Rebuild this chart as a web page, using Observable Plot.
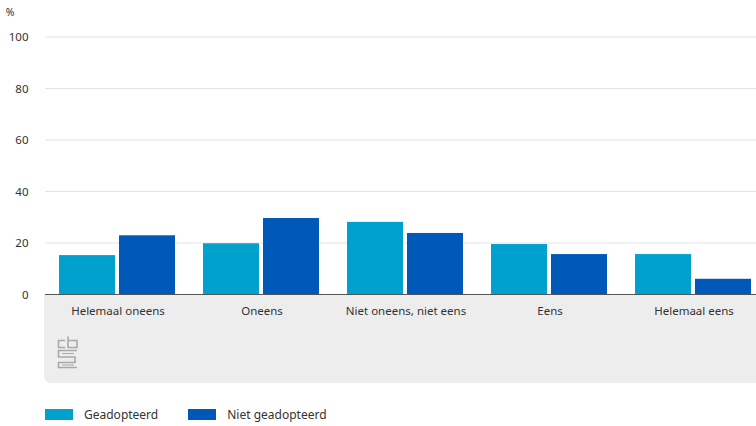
<!DOCTYPE html>
<html>
<head>
<meta charset="utf-8">
<script src="https://cdn.jsdelivr.net/npm/d3@7"></script>
<script src="https://cdn.jsdelivr.net/npm/@observablehq/plot@0.6"></script>
<style>
  html, body { margin: 0; padding: 0; background: #fff; overflow: hidden; width: 756px; height: 426px; }
  #chart { width: 765px; }
  #chart svg { display: block; max-width: none !important; }
  .legend { display: flex; align-items: center; padding-left: 45px; margin-top: 16px; font-family: "Noto Sans", sans-serif; font-size: 12px; color: #333; }
  .legend .item { display: flex; align-items: center; margin-right: 30px; }
  .legend .sw { width: 28px; height: 11px; margin-right: 11px; }
</style>
</head>
<body>
<div id="chart"></div>
<div class="legend" id="legend"></div>
<script>
const categories = ["Helemaal oneens", "Oneens", "Niet oneens, niet eens", "Eens", "Helemaal eens"];
const series = ["Geadopteerd", "Niet geadopteerd"];
const geadopteerd = [15.3, 19.9, 28.2, 19.6, 15.7];
const nietGeadopteerd = [23.0, 29.7, 23.9, 15.7, 6.1];
const yTicks = [0, 20, 40, 60, 80, 100];
const colors = ["#00a1cd", "#0058b8"];
const unitLabel = "%";

const data = categories.flatMap((c, i) => [
  {cat: c, s: series[0], v: geadopteerd[i]},
  {cat: c, s: series[1], v: nietGeadopteerd[i]}
]);

const W = 765, ML = 45;

const plot = Plot.plot({
  width: W,
  height: 390,
  marginLeft: ML,
  marginRight: 0,
  marginTop: 37,
  marginBottom: 95.5,
  style: {fontFamily: "Noto Sans, sans-serif", fontSize: "11px", color: "#333", background: "transparent", maxWidth: "none"},
  fx: {domain: categories, paddingInner: 0.1875, paddingOuter: 0.09375, label: null},
  x: {domain: series, paddingInner: 0.066, paddingOuter: 0, axis: null},
  y: {domain: [0, 100], ticks: yTicks, label: null},
  color: {domain: series, range: colors},
  marks: [
    Plot.axisY({ticks: yTicks, tickSize: 0, dx: -22, label: null, fontSize: 11.5}),
    Plot.axisFx({anchor: "bottom", tickSize: 0, dy: 3, label: null, fontSize: 11.5}),
    Plot.barY(data, {fx: "cat", x: "s", y: "v", fill: "s"})
  ]
});

document.getElementById("chart").appendChild(plot);

const yScale = plot.scale("y");
const y0 = yScale.apply(0);
const svg = d3.select(plot);

// gridlines spanning the whole frame (drawn behind the bars)
const grid = svg.insert("g", ":first-child").attr("stroke", "#e4e4e4").attr("stroke-width", 1.2);
yTicks.slice(1).forEach(t => {
  const yy = yScale.apply(t);
  grid.append("line").attr("x1", ML).attr("x2", W).attr("y1", yy).attr("y2", yy);
});

// grey footer band behind the category labels
const bx = 44, bw = W - bx, by = y0, bh = 383 - y0, r = 8;
svg.insert("path", ":first-child")
  .attr("d", `M${bx},${by} H${bx + bw} V${by + bh} H${bx + r} Q${bx},${by + bh} ${bx},${by + bh - r} Z`)
  .attr("fill", "#ededed");

// baseline
svg.append("line").attr("x1", ML).attr("x2", W).attr("y1", y0).attr("y2", y0)
  .attr("stroke", "#555").attr("stroke-width", 1.2);

// unit label
svg.append("text").attr("x", 10).attr("y", 16).attr("font-size", 10.5)
  .attr("fill", "#333").text(unitLabel);

// CBS logo (approximation)
const lg = svg.append("g").attr("fill", "none").attr("stroke", "#a9a9a9").attr("stroke-width", 1.6)
  .attr("transform", `translate(57,${y0 + 42})`);
lg.append("path").attr("d", "M8,4 H1.5 V11 H8");
lg.append("path").attr("d", "M11,0 V11 H20 V4 H11");
lg.append("path").attr("d", "M20,14 H1.5 V20.5 H18 V26 H1.5 V31 H20");
lg.append("path").attr("d", "M5,17 H17 M5,28.5 H17").attr("stroke-width", 1);

// legend
const legend = d3.select("#legend");
series.forEach((s, i) => {
  const it = legend.append("div").attr("class", "item");
  it.append("div").attr("class", "sw").style("background", colors[i]);
  it.append("span").text(s);
});
</script>
</body>
</html>
